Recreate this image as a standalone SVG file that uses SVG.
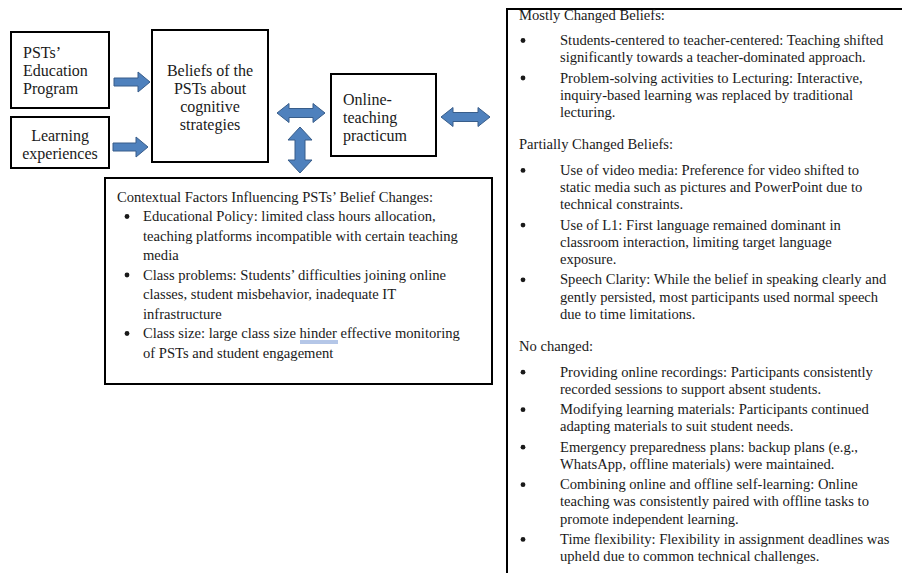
<svg xmlns="http://www.w3.org/2000/svg" width="902" height="573" viewBox="0 0 902 573" font-family="'Liberation Serif', 'Times New Roman', serif">
<style>
.box{fill:#fff;stroke:#000;stroke-width:2}
.t{font-family:"Liberation Serif",serif;fill:#1a1a1a}
.big{font-size:16px}
.sm{font-size:14.6px}
.arr{fill:#4F81BD;stroke:#385D8A;stroke-width:1}
.mid{text-anchor:middle}
.bul{fill:#1a1a1a}
</style>
<rect width="902" height="573" fill="#fff"/>
<g id="connectors">
<polygon class="arr" points="114,78 138,78 138,72 150,82 138,92 138,86 114,86"/>
<polygon class="arr" points="113,143 136,143 136,137 148,147 136,157 136,151 113,151"/>
<polygon class="arr" points="277,113 289,103.5 289,108.5 313,108.5 313,103.5 325,113 313,122.5 313,117.5 289,117.5 289,122.5"/>
<polygon class="arr" points="441,117 453,107.5 453,112.5 478,112.5 478,107.5 490,117 478,126.5 478,121.5 453,121.5 453,126.5"/>
<polygon class="arr" points="300,127 312,140 305,140 305,160 312,160 300,173 288,160 295,160 295,140 288,140"/>
</g>
<g id="node-education" font-family="Liberation Serif" font-size="16">
<rect class="box" x="11" y="32" width="98" height="76"/>
<text class="t big" x="23" y="57.5">PSTs’</text>
<text class="t big" x="23" y="75.5">Education</text>
<text class="t big" x="23" y="93.5">Program</text>
</g>
<g id="node-learning" font-family="Liberation Serif" font-size="16">
<rect class="box" x="11" y="117" width="98" height="51"/>
<text class="t big mid" x="60" y="140.5">Learning</text>
<text class="t big mid" x="60" y="158.5">experiences</text>
</g>
<g id="node-beliefs" font-family="Liberation Serif" font-size="16">
<rect class="box" x="152" y="30" width="116" height="132"/>
<text class="t big mid" x="210" y="75.5">Beliefs of the</text>
<text class="t big mid" x="210" y="93.5">PSTs about</text>
<text class="t big mid" x="210" y="111.5">cognitive</text>
<text class="t big mid" x="210" y="129.5">strategies</text>
</g>
<g id="node-online" font-family="Liberation Serif" font-size="16">
<rect class="box" x="331" y="74" width="105" height="82"/>
<text class="t big" x="343" y="104.5">Online-</text>
<text class="t big" x="343" y="122.5">teaching</text>
<text class="t big" x="343" y="140.5">practicum</text>
</g>
<g id="node-contextual">
<rect class="box" x="105" y="178" width="387" height="206"/>
<text class="t sm" x="117" y="201.5">Contextual Factors Influencing PSTs’ Belief Changes:</text>
<circle class="bul" cx="127" cy="216.5" r="2.4"/>
<text class="t sm" x="143" y="221">Educational Policy: limited class hours allocation,</text>
<text class="t sm" x="143" y="240.5">teaching platforms incompatible with certain teaching</text>
<text class="t sm" x="143" y="260">media</text>
<circle class="bul" cx="127" cy="275" r="2.4"/>
<text class="t sm" x="143" y="279.5">Class problems:  Students’ difficulties joining online</text>
<text class="t sm" x="143" y="299">classes, student misbehavior, inadequate IT</text>
<text class="t sm" x="143" y="318.5">infrastructure</text>
<circle class="bul" cx="127" cy="333.5" r="2.4"/>
<text class="t sm" x="143" y="338">Class size: large class size hinder effective monitoring</text>
<path d="M300,341 H338 M300,343 H338" stroke="#4472C4" stroke-width="0.8" fill="none"/>
<text class="t sm" x="143" y="357.5">of PSTs and student engagement</text>
</g>
<g id="node-beliefs-changes">
<rect class="box" x="507" y="9" width="400" height="570"/>
<text class="t sm" x="519" y="19.5">Mostly Changed Beliefs:</text>
<circle class="bul" cx="523" cy="40.5" r="2.4"/>
<text class="t sm" x="560" y="45">Students-centered to teacher-centered: Teaching shifted</text>
<text class="t sm" x="560" y="62.2">significantly towards a teacher-dominated approach.</text>
<circle class="bul" cx="523" cy="78" r="2.4"/>
<text class="t sm" x="560" y="82.5">Problem-solving  activities to Lecturing: Interactive,</text>
<text class="t sm" x="560" y="99.7">inquiry-based learning was replaced by traditional</text>
<text class="t sm" x="560" y="116.9">lecturing.</text>
<text class="t sm" x="519" y="149.4">Partially Changed Beliefs:</text>
<circle class="bul" cx="523" cy="170.4" r="2.4"/>
<text class="t sm" x="560" y="174.9">Use of video media:  Preference for video shifted to</text>
<text class="t sm" x="560" y="192.1">static media such as pictures and PowerPoint due to</text>
<text class="t sm" x="560" y="209.3">technical constraints.</text>
<circle class="bul" cx="523" cy="225.1" r="2.4"/>
<text class="t sm" x="560" y="229.6">Use of L1: First language remained dominant in</text>
<text class="t sm" x="560" y="246.8">classroom interaction, limiting target language</text>
<text class="t sm" x="560" y="264">exposure.</text>
<circle class="bul" cx="523" cy="279.8" r="2.4"/>
<text class="t sm" x="560" y="284.3">Speech Clarity:  While the belief in speaking clearly and</text>
<text class="t sm" x="560" y="301.5">gently persisted, most participants used normal speech</text>
<text class="t sm" x="560" y="318.7">due to time limitations.</text>
<text class="t sm" x="519" y="351.2">No changed:</text>
<circle class="bul" cx="523" cy="372.2" r="2.4"/>
<text class="t sm" x="560" y="376.7">Providing online recordings: Participants consistently</text>
<text class="t sm" x="560" y="393.9">recorded sessions to support absent students.</text>
<circle class="bul" cx="523" cy="409.7" r="2.4"/>
<text class="t sm" x="560" y="414.2">Modifying learning materials: Participants continued</text>
<text class="t sm" x="560" y="431.4">adapting materials to suit student needs.</text>
<circle class="bul" cx="523" cy="447.2" r="2.4"/>
<text class="t sm" x="560" y="451.7">Emergency preparedness plans: backup plans (e.g.,</text>
<text class="t sm" x="560" y="468.9">WhatsApp, offline materials) were maintained.</text>
<circle class="bul" cx="523" cy="484.7" r="2.4"/>
<text class="t sm" x="560" y="489.2">Combining online and offline self-learning: Online</text>
<text class="t sm" x="560" y="506.4">teaching was consistently paired with offline tasks to</text>
<text class="t sm" x="560" y="523.6">promote independent learning.</text>
<circle class="bul" cx="523" cy="539.4" r="2.4"/>
<text class="t sm" x="560" y="543.9">Time flexibility: Flexibility in assignment deadlines was</text>
<text class="t sm" x="560" y="561.1">upheld due to common technical challenges.</text>
</g>
</svg>
